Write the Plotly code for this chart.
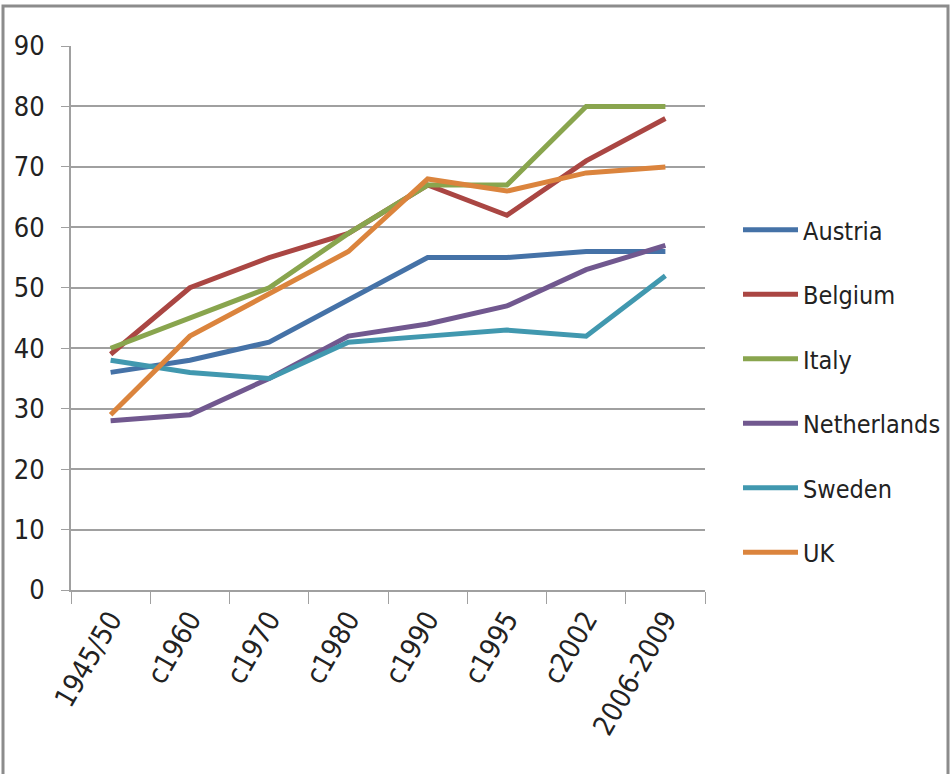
import plotly.graph_objects as go

# Periods on the x axis
periods = ["1945/50", "c1960", "c1970", "c1980", "c1990", "c1995", "c2002", "2006-2009"]

# Values per country
austria = [36, 38, 41, 48, 55, 55, 56, 56]
belgium = [39, 50, 55, 59, 67, 62, 71, 78]
italy = [40, 45, 50, 59, 67, 67, 80, 80]
netherlands = [28, 29, 35, 42, 44, 47, 53, 57]
sweden = [38, 36, 35, 41, 42, 43, 42, 52]
uk = [29, 42, 49, 56, 68, 66, 69, 70]

series = [
    ("Austria", austria, "#4572A7"),
    ("Belgium", belgium, "#AA4643"),
    ("Italy", italy, "#89A54E"),
    ("Netherlands", netherlands, "#71588F"),
    ("Sweden", sweden, "#4198AF"),
    ("UK", uk, "#DB843D"),
]

FONT = "Liberation Sans Narrow, DejaVu Sans Condensed, Arial Narrow, sans-serif"

fig = go.Figure()
for name, vals, color in series:
    fig.add_trace(go.Scatter(
        x=periods, y=vals, name=name, mode="lines",
        legendgroup=name,
        line=dict(color=color, width=5),
    ))

W, H = 951, 774
L, R, T, B = 71, 246, 46, 184
pw, ph = W - L - R, H - T - B

# outer frame around the chart
fig.add_shape(type="rect", xref="paper", yref="paper",
              x0=(3 - L) / pw, x1=(948 - L) / pw,
              y0=-(H + 20 - T - ph) / ph, y1=1 + (T - 6) / ph,
              line=dict(color="#8C8C8C", width=3), fillcolor="rgba(0,0,0,0)")

fig.update_layout(
    width=W, height=H,
    margin=dict(l=L, r=R, t=T, b=B, autoexpand=False),
    paper_bgcolor="white", plot_bgcolor="white",
    font=dict(family=FONT, size=27, color="#222222"),
    showlegend=True,
    legend=dict(
        x=(738 - L) / pw, xanchor="left",
        y=1 - (207 - T) / ph, yanchor="top",
        tracegroupgap=29, itemwidth=55,
        font=dict(family=FONT, size=25, color="#222222"),
        bgcolor="rgba(0,0,0,0)",
    ),
    xaxis=dict(
        type="category", range=[-0.5, 7.5],
        tickson="boundaries", ticks="outside", ticklen=12, tickcolor="#A0A0A0",
        showline=True, linecolor="#A0A0A0", linewidth=2,
        showgrid=False, tickangle=-60,
        tickfont=dict(family=FONT, size=28, color="#222222"),
    ),
    yaxis=dict(
        range=[0, 90], dtick=10, tick0=0,
        ticks="outside", ticklen=8, tickcolor="#A0A0A0",
        showline=True, linecolor="#A0A0A0", linewidth=2,
        showgrid=True, gridcolor="#A0A0A0", gridwidth=2,
        zeroline=False, ticklabelstandoff=11,
        tickfont=dict(family=FONT, size=27, color="#222222"),
    ),
)

fig.write_html("out.html")
